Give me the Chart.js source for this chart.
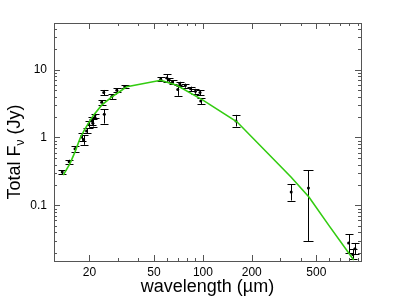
<!DOCTYPE html>
<html>
<head>
<meta charset="utf-8">
<script src="https://cdn.jsdelivr.net/npm/chart.js@4"></script>
<style>html, body { margin: 0; padding: 0; background: #fff; }</style>
</head>
<body>
<canvas id="chart" width="399" height="298"></canvas>
<script>
// model SED (green line)
const modelWave = [13.8, 15.2, 16.3, 17.5, 18.6, 19.7, 21.2, 23.8, 27.5, 31.6, 34, 55, 69, 100, 162, 250, 350, 450, 600, 850];
const modelFlux = [0.279, 0.415, 0.614, 0.966, 1.28, 1.61, 2.13, 2.99, 3.95, 4.96, 5.6, 6.96, 5.88, 3.54, 1.70, 0.59, 0.26, 0.133, 0.050, 0.0157];

// photometry with error bars
const obsWave = [13.6, 15.0, 16.3, 17.9, 18.4, 19.2, 19.8, 20.6, 21.0, 21.6, 23.8, 24.5, 24.7, 27.5, 29.5, 33.0, 55, 60, 62, 65, 70, 72, 78, 84, 90, 96, 97, 160, 350, 447, 790, 840, 865];
const obsFlux = [0.31, 0.44, 0.68, 1.02, 0.93, 1.25, 1.55, 1.75, 1.62, 2.1, 3.3, 4.6, 2.2, 4.0, 4.95, 5.6, 7.2, 7.5, 7.0, 6.6, 5.1, 6.2, 5.8, 5.2, 4.8, 4.6, 3.45, 1.75, 0.158, 0.18, 0.028, 0.019, 0.023];
const obsLow  = [0.29, 0.41, 0.62, 0.90, 0.78, 1.15, 1.40, 1.55, 1.45, 1.95, 3.0, 4.2, 1.6, 3.7, 4.6, 5.3, 6.7, 6.6, 6.6, 6.2, 4.1, 5.8, 5.4, 4.8, 4.4, 4.2, 3.1, 1.45, 0.118, 0.030, 0.0196, 0.016, 0.019];
const obsHigh = [0.33, 0.47, 0.74, 1.15, 1.08, 1.36, 1.72, 2.0, 1.85, 2.25, 3.55, 5.0, 2.6, 4.3, 5.3, 5.9, 7.7, 8.5, 7.4, 7.0, 5.9, 6.6, 6.2, 5.6, 5.2, 5.0, 3.8, 2.15, 0.204, 0.33, 0.0375, 0.023, 0.028];

// axis labels
const xTickLabels = [20, 50, 100, 200, 500];
const yTickLabels = [0.1, 1, 10];

const FONT = '"Liberation Sans", Arial, sans-serif';
const AXIS = '#555';

function minorList(decades) {
    const out = [];
    decades.forEach(d => { for (let m = 1; m < 10; m++) out.push(+(m * d).toPrecision(3)); });
    return out;
}
const xTickVals = minorList([10, 100]).filter(v => v >= 20 && v <= 940);
const yTickVals = minorList([0.01, 0.1, 1, 10]).filter(v => v >= 0.016 && v <= 48);

const sedPlugin = {
    id: 'sed',
    beforeDatasetsDraw(chart) {
        const ctx = chart.ctx, x = chart.scales.x, y = chart.scales.y, a = chart.chartArea;
        ctx.save();
        ctx.beginPath();
        ctx.rect(a.left, a.top, a.right - a.left, a.bottom - a.top);
        ctx.clip();
        ctx.strokeStyle = '#000';
        ctx.lineWidth = 1;
        for (let i = 0; i < obsWave.length; i++) {
            const px = Math.round(x.getPixelForValue(obsWave[i])) + 0.5;
            const lo = y.getPixelForValue(obsLow[i]);
            const hi = y.getPixelForValue(obsHigh[i]);
            const cap = obsWave[i] > 400 && obsWave[i] < 500 ? 5 : 4;
            ctx.beginPath();
            ctx.moveTo(px, lo); ctx.lineTo(px, hi);
            ctx.moveTo(px - cap, Math.round(lo) + 0.5); ctx.lineTo(px + cap, Math.round(lo) + 0.5);
            ctx.moveTo(px - cap, Math.round(hi) + 0.5); ctx.lineTo(px + cap, Math.round(hi) + 0.5);
            ctx.stroke();
        }
        ctx.restore();
    },
    afterDraw(chart) {
        const ctx = chart.ctx, x = chart.scales.x, y = chart.scales.y, a = chart.chartArea;
        ctx.save();
        ctx.strokeStyle = AXIS;
        ctx.lineWidth = 1;
        ctx.strokeRect(Math.round(a.left) + 0.5, Math.round(a.top) + 0.5, Math.round(a.right - a.left), Math.round(a.bottom - a.top));

        // inward ticks on all four sides
        ctx.beginPath();
        xTickVals.forEach(v => {
            const px = Math.round(x.getPixelForValue(v)) + 0.5;
            const len = xTickLabels.includes(v) ? 6 : 3;
            ctx.moveTo(px, a.bottom); ctx.lineTo(px, a.bottom - len);
            ctx.moveTo(px, a.top); ctx.lineTo(px, a.top + len);
        });
        yTickVals.forEach(v => {
            const py = Math.round(y.getPixelForValue(v)) + 0.5;
            const len = yTickLabels.includes(v) ? 6 : 3;
            ctx.moveTo(a.left, py); ctx.lineTo(a.left + len, py);
            ctx.moveTo(a.right, py); ctx.lineTo(a.right - len, py);
        });
        ctx.stroke();

        // axis titles
        ctx.fillStyle = '#000';
        ctx.font = '18px ' + FONT;
        ctx.textAlign = 'center';
        ctx.textBaseline = 'alphabetic';
        ctx.fillText('wavelength (\u00b5m)', (a.left + a.right) / 2, 292);

        ctx.translate(20, 152);
        ctx.rotate(-Math.PI / 2);
        ctx.textAlign = 'left';
        ctx.font = '18px ' + FONT;
        const p1 = 'Total F', p3 = ' (Jy)';
        const w1 = ctx.measureText(p1).width, w3 = ctx.measureText(p3).width;
        ctx.font = '12px ' + FONT;
        const w2 = ctx.measureText('\u03bd').width;
        let sx = -(w1 + w2 + w3) / 2;
        ctx.font = '18px ' + FONT;
        ctx.fillText(p1, sx, 0);
        ctx.font = '12px ' + FONT;
        ctx.fillText('\u03bd', sx + w1, 4);
        ctx.font = '18px ' + FONT;
        ctx.fillText(p3, sx + w1 + w2, 0);
        ctx.restore();
    }
};

new Chart(document.getElementById('chart'), {
    type: 'scatter',
    data: {
        datasets: [{
            label: 'model',
            data: modelWave.map((w, i) => ({ x: w, y: modelFlux[i] })),
            showLine: true,
            borderColor: '#33cc11',
            borderWidth: 1.6,
            pointRadius: 0,
            tension: 0
        }, {
            label: 'data',
            data: obsWave.map((w, i) => ({ x: w, y: obsFlux[i] })),
            pointRadius: 1.5,
            pointBackgroundColor: '#000',
            pointBorderColor: '#000',
            pointBorderWidth: 0
        }]
    },
    options: {
        responsive: false,
        animation: false,
        devicePixelRatio: 1,
        layout: { padding: { left: 0, right: 38, top: 23, bottom: 0 } },
        plugins: { legend: { display: false }, tooltip: { enabled: false } },
        scales: {
            x: {
                type: 'logarithmic',
                min: 12.1,
                max: 942,
                afterBuildTicks: s => { s.ticks = xTickLabels.map(v => ({ value: v })); },
                afterFit: s => { s.height = 37; },
                grid: { display: false, drawTicks: false },
                border: { display: false },
                ticks: {
                    padding: 4,
                    color: '#000',
                    font: { family: FONT, size: 12 },
                    maxRotation: 0,
                    autoSkip: false,
                    callback: v => String(v)
                }
            },
            y: {
                type: 'logarithmic',
                min: 0.0152,
                max: 48.4,
                afterBuildTicks: s => { s.ticks = yTickLabels.map(v => ({ value: v })); },
                afterFit: s => { s.width = 54; },
                grid: { display: false, drawTicks: false },
                border: { display: false },
                ticks: {
                    padding: 7,
                    color: '#000',
                    font: { family: FONT, size: 12 },
                    autoSkip: false,
                    callback: v => String(v)
                }
            }
        }
    },
    plugins: [sedPlugin]
});
</script>
</body>
</html>
